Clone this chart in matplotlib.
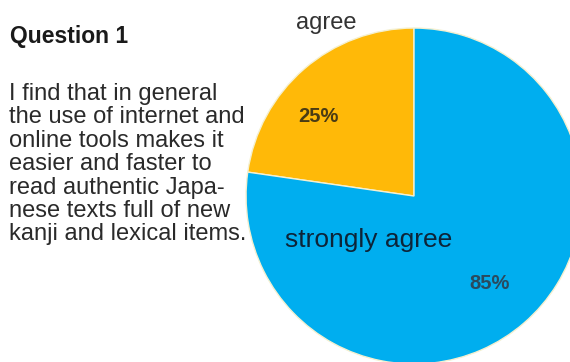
import matplotlib
matplotlib.use("Agg")
import matplotlib.pyplot as plt

labels = ["agree", "strongly agree"]
values = [25, 85]
pct_labels = ["25%", "85%"]
colors = ["#FFB908", "#00AEEF"]

title = "Question 1"
body = ["I find that in general",
        "the use of internet and",
        "online tools makes it",
        "easier and faster to",
        "read authentic Japa-",
        "nese texts full of new",
        "kanji and lexical items."]

plt.rcParams['font.family'] = ['Liberation Sans', 'DejaVu Sans']
fig = plt.figure(figsize=(5.7, 3.62), dpi=100)
fig.patch.set_facecolor("white")

ax = fig.add_axes([0.4316, -0.0055, 0.5895, 0.928])
ax.pie(values, colors=colors, startangle=90, counterclock=True, radius=1,
       wedgeprops=dict(edgecolor="#f4f0d0", linewidth=1.0))
ax.set_xlim(-1, 1)
ax.set_ylim(-1, 1)
ax.set_aspect("equal")
ax.axis("off")
for p in ax.patches:
    p.set_clip_on(False)

ax.text(-0.525, 1.03, labels[0], ha="center", va="center", fontsize=17, color="#333333", clip_on=False)
ax.text(-0.57, 0.475, pct_labels[0], ha="center", va="center", fontsize=14.5, fontweight="bold", color="#4a3c14")
ax.text(-0.27, -0.26, labels[1], ha="center", va="center", fontsize=19, color="#0d2438")
ax.text(0.452, -0.518, pct_labels[1], ha="center", va="center", fontsize=14.5, fontweight="bold", color="#2a4a5e")

fig.text(10/570, 1 - 36/362, title, ha="left", va="center", fontsize=16.5, fontweight="bold", color="#1a1a1a")
y0 = 94
for i, line in enumerate(body):
    fig.text(9/570, 1 - (y0 + i*23.4)/362, line, ha="left", va="center", fontsize=17, color="#2a2a2a")

fig.savefig("out.png", dpi=100, facecolor="white")
